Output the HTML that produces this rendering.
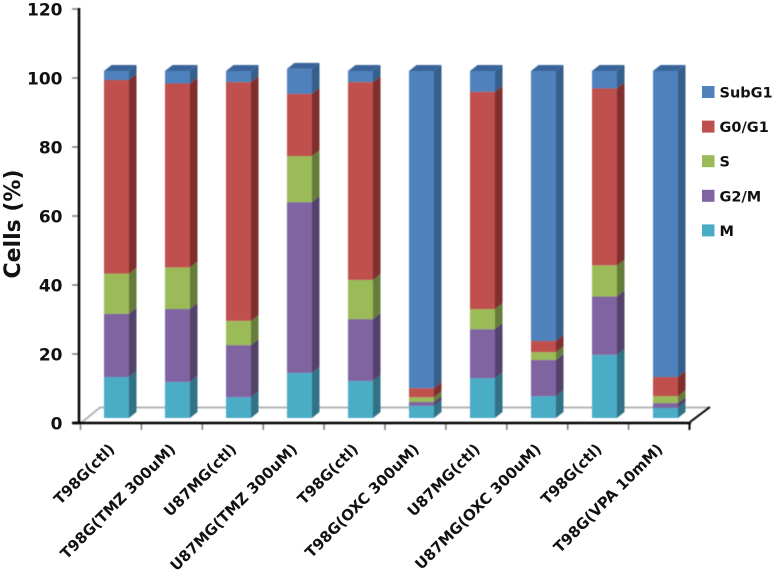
<!DOCTYPE html>
<html>
<head>
<meta charset="utf-8">
<style>
html,body{margin:0;padding:0;background:#fff;}
svg{display:block;}
text{font-family:"DejaVu Sans","Liberation Sans",sans-serif;fill:#111;}
</style>
</head>
<body>
<svg id="chart" width="774" height="578" viewBox="0 0 774 578" xmlns="http://www.w3.org/2000/svg">
  <g id="plot" style="filter:blur(0.5px)"></g>
  <g id="labels" style="filter:blur(0.35px)"></g>
</svg>
<script>
const categories = ["T98G(ctl)","T98G(TMZ 300uM)","U87MG(ctl)","U87MG(TMZ 300uM)","T98G(ctl)","T98G(OXC 300uM)","U87MG(ctl)","U87MG(OXC 300uM)","T98G(ctl)","T98G(VPA 10mM)"];
const seriesNames = ["M","G2/M","S","G0/G1","SubG1"];
const valuesM = [11.8,10.4,6,13,10.7,3.5,11.5,6.3,18.2,2.9];
const valuesG2M = [18.2,21,15,49.2,17.8,1.1,14.1,10.4,16.8,1.4];
const valuesS = [11.6,12,7,13.3,11.3,1.4,5.8,2.3,9,2];
const valuesG0G1 = [55.8,53,68.8,17.9,57,2.6,62.6,3.2,51,5.5];
const valuesSubG1 = [2.6,3.6,3.2,7.2,3.2,91.4,6,77.8,5,88.2];
const yTicks = [0,20,40,60,80,100,120];

const NS = "http://www.w3.org/2000/svg";
const plot = document.getElementById("plot");
const labels = document.getElementById("labels");
const allSeries = [valuesM,valuesG2M,valuesS,valuesG0G1,valuesSubG1];
const front = ["#4bacc6","#8064a2","#9bbb59","#c0504d","#4f81bd"];
const side = ["#327286","#54426b","#667c3a","#7f2f2e","#365f8c"];
const legendColors = ["#4bacc6","#8064a2","#9bbb59","#c0504d","#4f81bd"];

const barW = 25, dx = 7.5, dy = 6;
function axisY(v){ return 423 - v * 3.45; }
function barY(v){ return 418 - v * 3.47; }
function barX(i){ return 104 + i * 61; }
function tickX(i){ return 80.5 + i * 60.9; }

function add(parent, tag, attrs){
  const el = document.createElementNS(NS, tag);
  for (const k in attrs) el.setAttribute(k, attrs[k]);
  parent.appendChild(el);
  return el;
}

// floor
let el = add(plot,"polyline",{points:"81,423 100,407.5 710,407.5",fill:"none",stroke:"#b5b5b5","stroke-width":2});



// bars
categories.forEach(function(cat,i){
  const x = barX(i);
  let total = 0;
  const g = add(plot,"g",{});
  
  
  allSeries.forEach(function(vals,s){
    const y0 = barY(total);
    total += vals[i];
    const y1 = barY(total);
    const r = add(g,"rect",{x:x,y:y1,width:barW,height:y0-y1,fill:front[s]});
    
    
    const p = add(g,"polygon",{points:[x+barW,y0,x+barW+dx,y0-dy,x+barW+dx,y1-dy,x+barW,y1].join(" "),fill:side[s]});
    
    
  });
  const yt = barY(total);
  const t = add(g,"polygon",{points:[x,yt,x+dx,yt-dy,x+barW+dx,yt-dy,x+barW,yt].join(" "),fill:"#3a659a"});
  
  
});

// y ticks
yTicks.forEach(function(v){
  const y = axisY(v);
  const l = add(plot,"line",{x1:72,x2:79,y1:y,y2:y,stroke:v===0?"#000":"#777","stroke-width":v===0?2.5:1.5});
  
  
  const t = add(labels,"text",{x:62.5,y:y+6.5,"text-anchor":"end","font-size":17,"font-weight":"bold"});
  t.textContent = v;
  
  
});

// x ticks and labels
for (let i = 0; i <= categories.length; i++){
  const l = add(plot,"line",{x1:tickX(i),x2:tickX(i),y1:423,y2:430,stroke:i===categories.length?"#000":"#777","stroke-width":i===categories.length?2:1.5});
  
  
}
categories.forEach(function(cat,i){
  const ax = tickX(i) + 35, ay = 450;
  const t = add(labels,"text",{x:0,y:0,"text-anchor":"end","font-size":15,"font-weight":"bold",transform:"translate("+ax+","+ay+") rotate(-45)"});
  t.textContent = cat;
  
  
});

// axes
el = add(plot,"line",{x1:79,x2:79,y1:8,y2:424,stroke:"#000","stroke-width":2.5});


el = add(plot,"line",{x1:72,x2:691,y1:423,y2:423,stroke:"#000","stroke-width":2.5});


el = add(plot,"line",{x1:690,x2:710,y1:422,y2:407,stroke:"#000","stroke-width":2});



// y axis title
el = add(labels,"text",{x:0,y:0,"text-anchor":"middle","font-size":22,"font-weight":"bold",transform:"translate(20,224) rotate(-90)"});
el.textContent = "Cells (%)";



// legend
seriesNames.forEach(function(name,s){
  const row = 4 - s;
  const cy = 92 + row * 34.6;
  const r = add(labels,"rect",{x:702,y:cy-6,width:12.5,height:12,fill:legendColors[s]});
  
  
  const t = add(labels,"text",{x:719.5,y:cy+5.5,"font-size":14.5,"font-weight":"bold"});
  t.textContent = name;
  
  
});
</script>
</body>
</html>
